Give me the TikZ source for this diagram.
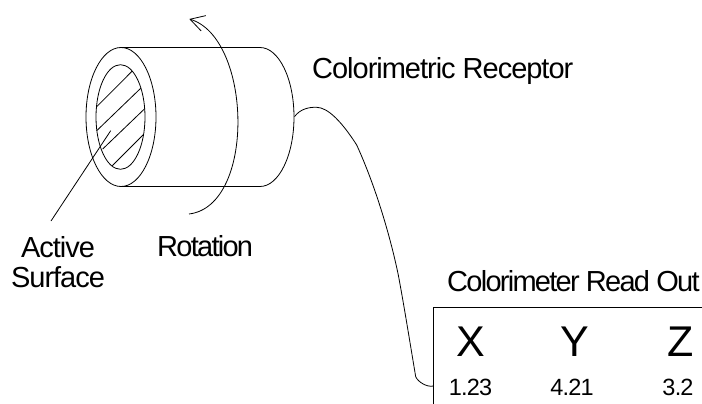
\documentclass[tikz,border=0pt]{standalone}
\usepackage{fontspec}
\setmainfont{Liberation Sans}
\newfontfamily\tightfont[LetterSpace=-3.5]{Liberation Sans}
\newfontfamily\tighterfont[LetterSpace=-6]{Liberation Sans}
\usetikzlibrary{positioning, arrows.meta}

\begin{document}
\begin{tikzpicture}[
        x=1pt, y=-1pt,
        line/.style={draw=black, line width=0.8pt},
        hatch/.style={draw=black, line width=0.8pt},
        label/.style={inner sep=0pt, anchor=base west, font=\tightfont\fontsize{29}{30}\selectfont},
        tightlabel/.style={inner sep=0pt, anchor=base west, font=\tighterfont\fontsize{29}{30}\selectfont},
        letter/.style={inner sep=0pt, anchor=base, font=\fontsize{43}{44}\selectfont},
        reading/.style={inner sep=0pt, anchor=base, font=\tightfont\fontsize{23.5}{25}\selectfont}
      ]
        \useasboundingbox (0,0) rectangle (702,404);
        \draw[line] (121,117) ellipse [x radius=35, y radius=69.5];
        \draw[line] (120.5,117) ellipse [x radius=24.5, y radius=52.3];
        \draw[line] (121,47.5) -- (260,47.5) arc [start angle=-90, end angle=90, x radius=34, y radius=69.5] -- (121,186.5);
        \draw[hatch] (96.7,106.7) -- (132.3,71);
        \draw[hatch] (96.7,130.7) -- (140.7,88.3);
        \draw[hatch] (102.7,149) -- (144.7,108.7);
        \draw[hatch] (112.3,165.7) -- (143.3,134.7);
        \coordinate (rotstart) at (189,214);
        \coordinate (rotend) at (189.3,19);
        \draw[line, -{Straight Barb[length=14pt, width=16pt]}] (rotstart) .. controls (256,206) and (252,38) .. (rotend);
        \coordinate (leadfoot) at (51,221);
        \coordinate (leadtip) at (110.7,130.7);
        \draw[line] (leadfoot) -- (leadtip);
        \coordinate (cablestart) at (294.5,116.7);
        \coordinate (cabletop) at (316.7,107.3);
        \coordinate (cablemid) at (356.7,145);
        \coordinate (cablelow) at (398.3,275);
        \coordinate (cablebend) at (415.7,376.7);
        \coordinate (panelcorner) at (433.5,307.7);
        \coordinate (panelright) at (702,307.7);
        \coordinate (panelbottom) at (433.5,404);
        \coordinate (cableend) at (433.5,386);
        \draw[line] (cablestart) .. controls (300,109) and (309,107) .. (cabletop)
          .. controls (328,107.5) and (342,122) .. (cablemid)
          .. controls (375,185) and (390,235) .. (cablelow)
          .. controls (404,305) and (412,355) .. (cablebend)
          .. controls (418,382) and (427,387.5) .. (cableend);
        \draw[line] (panelright) -- (panelcorner) -- (panelbottom);
        \node[label] (receptor) at (312,79) {Colorimetric Receptor};
        \node[label, anchor=base, align=center] (active) at (58,287) {Active\\Surface};
        \node[tightlabel] (rotation) at (157,256) {Rotation};
        \node[tightlabel] (readout) at (447,291) {Colorimeter Read Out};
        \node[letter] (x) at (470.7,356.7) {X};
        \node[letter] (y) at (575,356.7) {Y};
        \node[letter] (z) at (680.7,356.7) {Z};
        \node[reading] (xval) at (470.5,395) {1.23};
        \node[reading] (yval) at (572,395) {4.21};
        \node[reading] (zval) at (678,395) {3.2};
      \end{tikzpicture}
\end{document}
